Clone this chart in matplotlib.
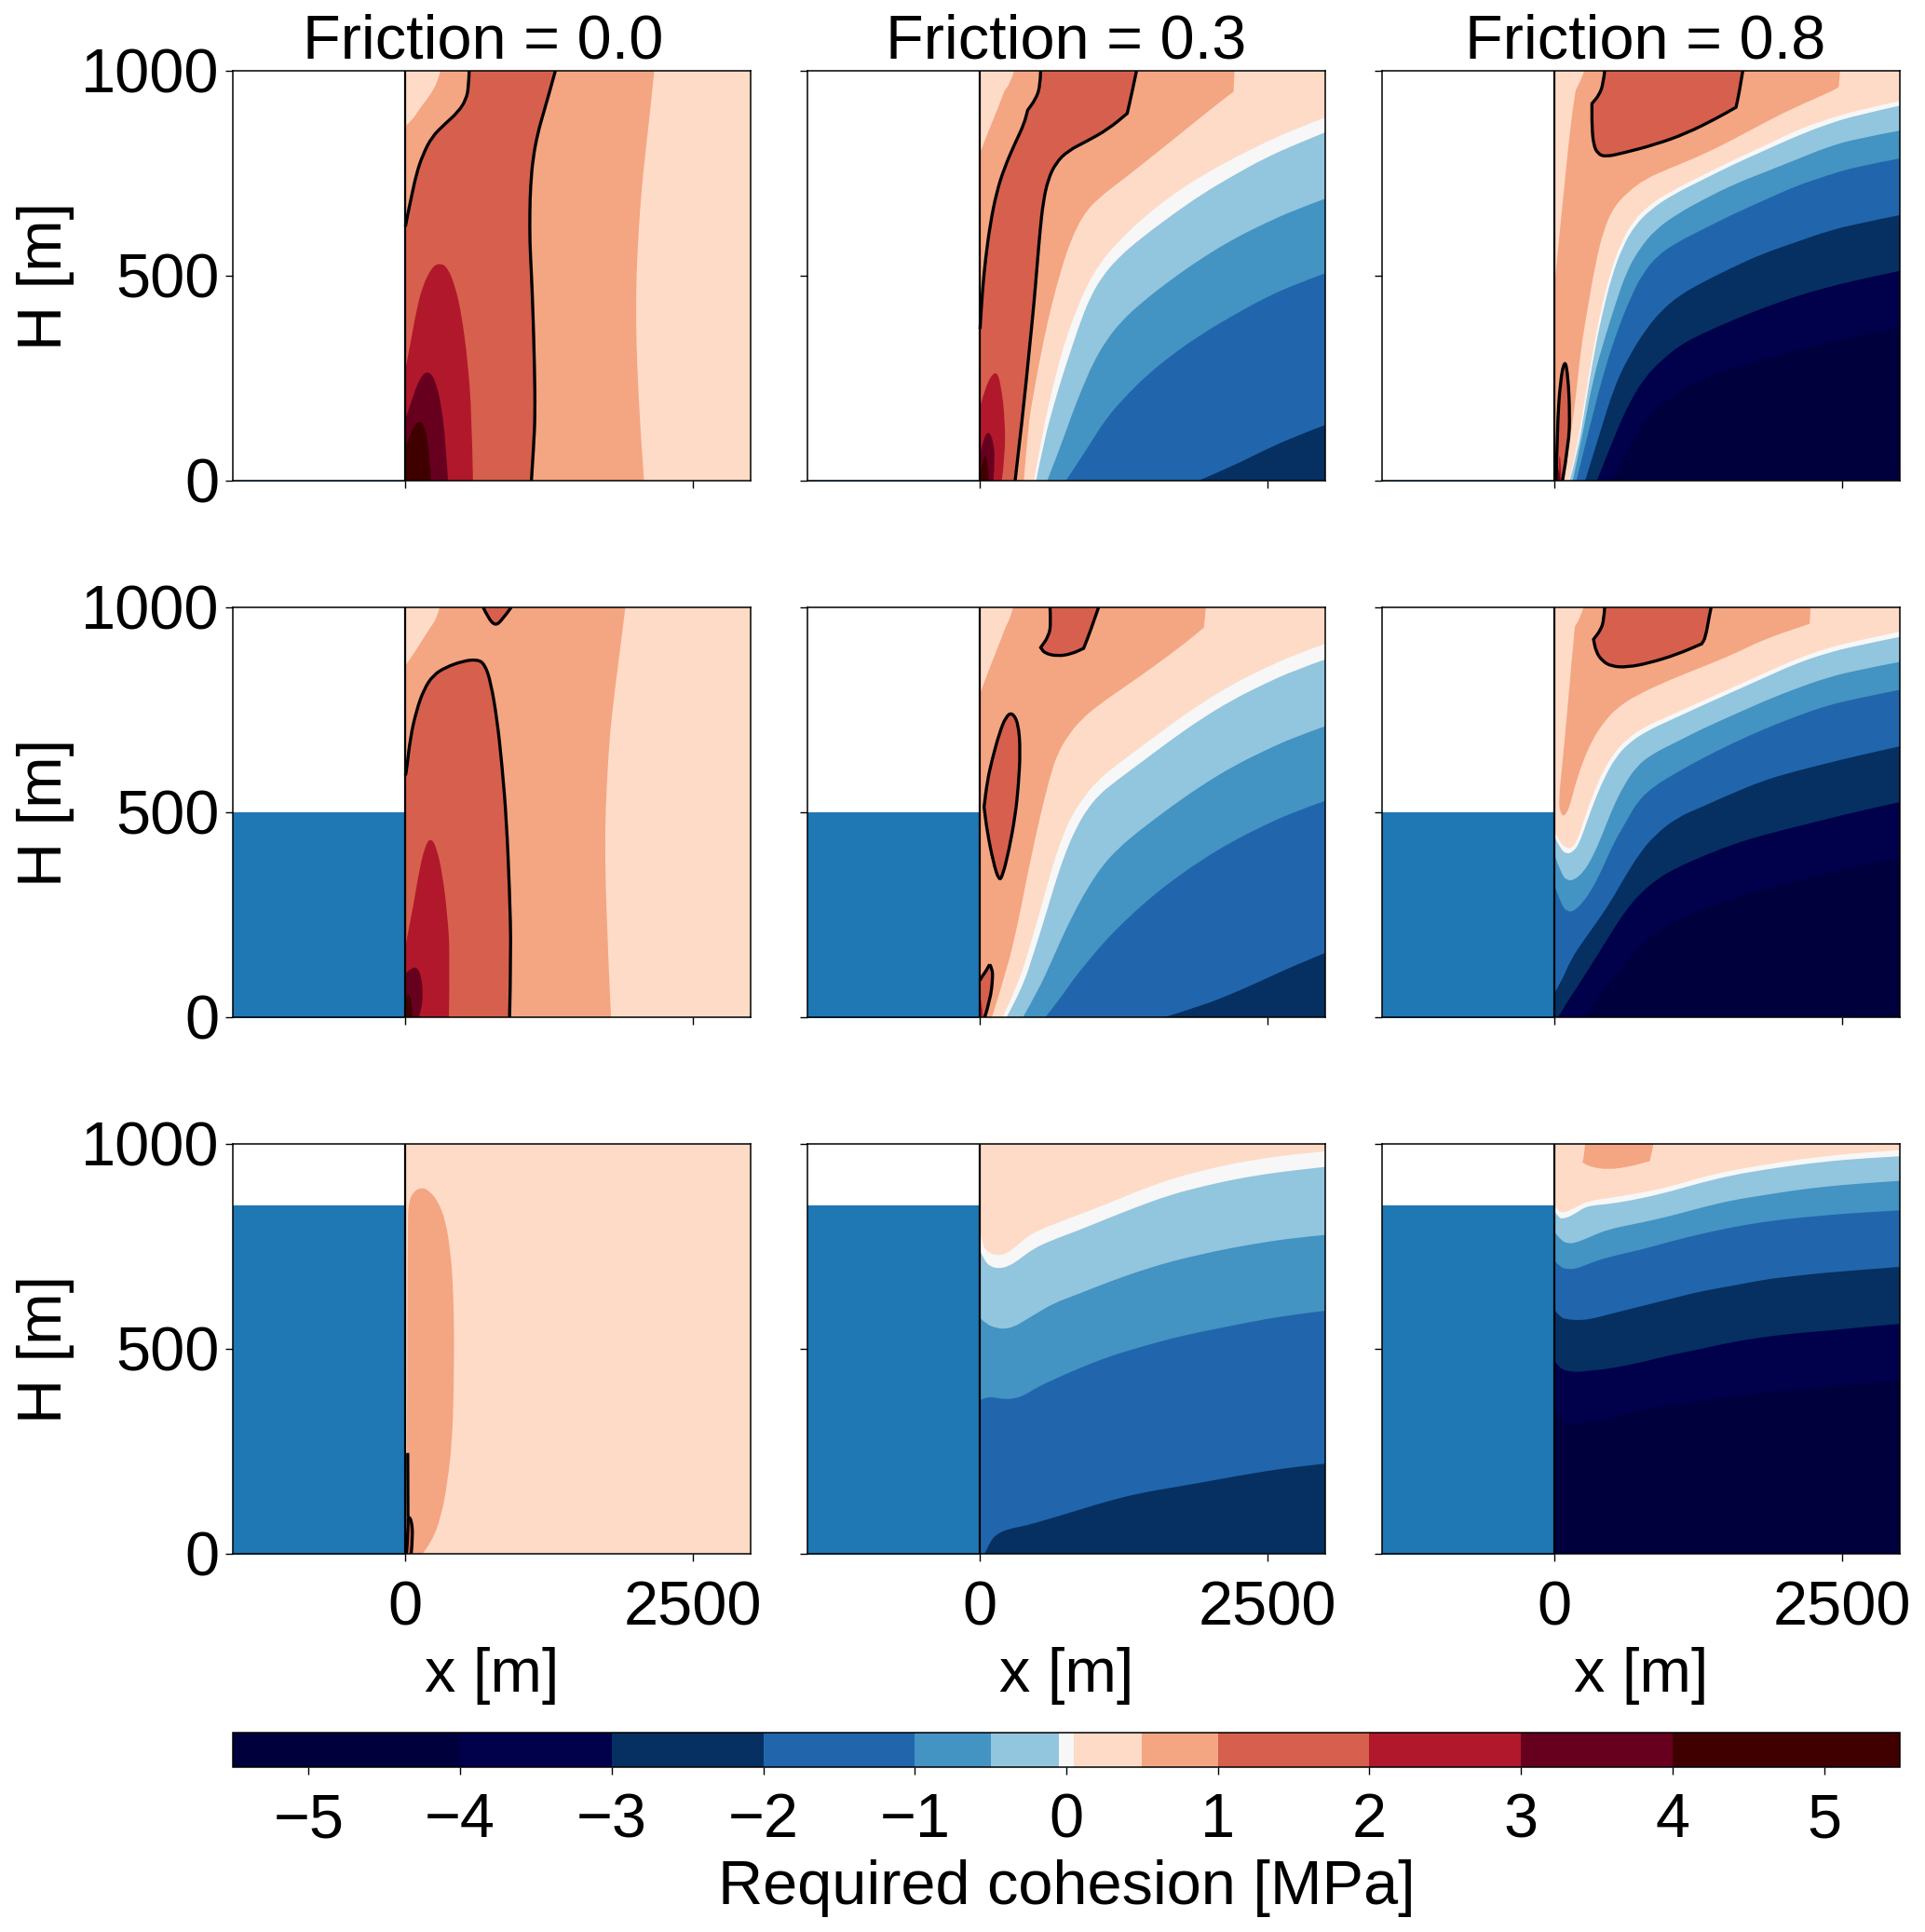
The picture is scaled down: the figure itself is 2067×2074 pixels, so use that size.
#!/usr/bin/env python3
# -*- coding: utf-8 -*-

import matplotlib
matplotlib.use("Agg")
import matplotlib.pyplot as plt
from matplotlib.colors import BoundaryNorm, ListedColormap
from matplotlib.cm import ScalarMappable
from matplotlib.patches import PathPatch
from matplotlib.path import Path

plt.rcParams['font.family'] = ['Liberation Sans', 'DejaVu Sans']

# contour levels of the required cohesion [MPa] and their colours
levels = [-5.5, -4, -3, -2, -1, -0.5, -0.05, 0.05, 0.5, 1, 2, 3, 4, 5.5]
colors = ['#00003c', '#00004b', '#053061', '#2166ac', '#4393c3', '#92c5de', '#f7f7f7',
          '#fddbc7', '#f4a582', '#d6604d', '#b2182b', '#67001f', '#400000']
cbar_ticks = [-5, -4, -3, -2, -1, 0, 1, 2, 3, 4, 5]

frictions = [0.0, 0.3, 0.8]
water_levels = [0, 500, 850]
x_ticks = [0, 2500]
h_ticks = [0, 500, 1000]

# indices into colors
DEEP, NAVY, DARK, STRONG, MID, LIGHT, WHITE, PALE, C05, C1, C2, C3, C4 = range(13)

# every curve is a list of (x [m], H [m]),
# a point listed twice is a kink in the curve

# friction 0.0, dry
a_corner = [(303, 1000), (284, 975), (216, 941), (122, 907), (54, 877), (0, 866)]
a_05 = [(2162, 1000), (2135, 922), (2095, 824), (2054, 718), (2027, 612), (2008, 506),
        (2003, 392), (2014, 278), (2041, 127), (2073, 0)]
a_c1_left = [(554, 1000), (549, 960), (527, 930), (460, 900), (338, 869), (230, 839),
             (149, 794), (95, 748), (54, 695), (14, 642), (0, 620)]
a_c1_right = [(1303, 1000), (1257, 953), (1203, 900), (1149, 847), (1108, 786), (1087, 718),
              (1081, 657), (1081, 581), (1095, 506), (1108, 415), (1122, 278), (1127, 164),
              (1116, 89), (1095, 0)]
a_c2 = [(0, 271), (41, 331), (95, 415), (149, 475), (230, 521), (297, 531), (365, 521),
        (432, 475), (487, 407), (541, 293), (576, 164), (587, 0), (0, 0)]
a_c3 = [(0, 149), (68, 210), (135, 255), (197, 268), (257, 248), (311, 187), (351, 89),
        (370, 0), (0, 0)]
a_c4 = [(0, 81), (54, 127), (122, 149), (176, 127), (208, 66), (224, 0), (0, 0)]

# friction 0.3, dry
b_corner = [(297, 1000), (265, 972), (211, 950), (211, 950), (143, 900), (76, 855), (0, 800)]
b_05 = [(2211, 1000), (2203, 949), (2203, 949), (2062, 919), (1792, 858), (1522, 797), (1252, 737),
        (1035, 691), (900, 650), (792, 589), (711, 521), (630, 438), (549, 339), (468, 218),
        (414, 127), (381, 0)]
b_white = [(3000, 886), (2738, 858), (2468, 824), (2198, 786), (1927, 744), (1657, 695),
           (1387, 634), (1170, 574), (1035, 528), (927, 475), (846, 422), (765, 362),
           (684, 286), (603, 195), (535, 104), (468, 0)]
b_light = [(3000, 850), (2738, 820), (2468, 786), (2198, 744), (1927, 699), (1657, 646),
           (1387, 589), (1197, 543), (1062, 498), (968, 453), (887, 399), (805, 331),
           (724, 263), (643, 187), (562, 104), (487, 0)]
b_mid = [(3000, 688), (2738, 661), (2468, 627), (2198, 589), (1927, 543), (1657, 490),
         (1414, 437), (1224, 388), (1089, 339), (981, 286), (887, 225), (792, 157),
         (697, 81), (584, 0)]
b_strong = [(3000, 506), (2738, 479), (2468, 445), (2198, 403), (1927, 358), (1657, 305),
            (1441, 255), (1251, 202), (1089, 149), (954, 89), (832, 36), (746, 0)]
b_dark = [(3000, 136), (2738, 108), (2468, 74), (2198, 36), (1900, 0)]
b_c1_left = [(527, 1000), (522, 960), (481, 930), (414, 904), (414, 904), (381, 869), (305, 824),
             (211, 763), (143, 703), (89, 627), (49, 544), (22, 468), (3, 384), (0, 370)]
b_c1_right = [(1360, 1000), (1319, 945), (1279, 896), (1279, 896), (1116, 858), (927, 828), (765, 805),
              (657, 775), (589, 733), (549, 680), (522, 612), (495, 521), (468, 430),
              (427, 316), (373, 164), (305, 0)]
b_c2 = [(0, 180), (49, 233), (138, 272), (184, 233), (216, 149), (219, 66), (189, 0), (0, 0)]
b_c3 = [(0, 66), (35, 108), (78, 121), (116, 96), (130, 51), (116, 0), (0, 0)]
b_c4 = [(0, 20), (35, 61), (49, 62), (68, 36), (76, 0), (0, 0)]

# friction 0.8, dry
c_corner = [(257, 1000), (238, 983), (184, 953), (184, 953), (157, 907), (116, 809), (76, 695),
            (35, 581), (0, 480)]
c_05 = [(2481, 1000), (2468, 960), (2468, 960), (2400, 949), (2089, 911), (1819, 873), (1549, 832),
        (1278, 794), (1008, 763), (792, 737), (630, 703), (508, 665), (427, 612), (359, 536),
        (292, 430), (224, 316), (170, 164), (84, 0)]
c_white = [(3000, 926), (2630, 904), (2360, 881), (2089, 854), (1819, 816), (1549, 782),
           (1278, 744), (1008, 706), (819, 672), (684, 634), (576, 581), (481, 506),
           (400, 415), (332, 316), (251, 180), (184, 66), (122, 0)]
c_light = [(3000, 915), (2630, 892), (2360, 869), (2089, 839), (1819, 805), (1549, 771),
           (1278, 733), (1008, 695), (833, 661), (697, 623), (589, 570), (495, 498),
           (414, 407), (346, 316), (265, 180), (197, 66), (130, 0)]
c_mid = [(3000, 854), (2630, 835), (2360, 813), (2089, 782), (1819, 752), (1549, 722),
         (1278, 684), (1062, 650), (873, 612), (738, 566), (630, 513), (535, 437),
         (441, 353), (332, 247), (238, 104), (157, 0)]
c_strong = [(3000, 786), (2630, 767), (2360, 744), (2089, 718), (1819, 684), (1549, 650),
            (1278, 612), (1062, 581), (900, 551), (765, 506), (657, 445), (549, 369),
            (441, 278), (319, 149), (189, 0)]
c_dark = [(3000, 648), (2630, 627), (2360, 608), (2089, 581), (1819, 555), (1549, 521),
          (1278, 483), (1089, 453), (927, 415), (792, 369), (657, 309), (522, 233),
          (387, 111), (265, 0)]
c_navy = [(3000, 512), (2630, 490), (2360, 471), (2089, 449), (1819, 422), (1549, 392),
          (1278, 358), (1089, 331), (927, 293), (792, 255), (657, 195), (522, 111), (368, 0)]
c_deep = [(3000, 373), (2630, 354), (2360, 335), (2089, 316), (1819, 297), (1549, 274),
          (1278, 248), (1062, 214), (873, 172), (738, 127), (630, 74), (508, 0)]
c_c1_top = [(435, 1000), (422, 968), (387, 941), (324, 920), (324, 920), (324, 862), (338, 820),
            (373, 798), (441, 790), (603, 800), (873, 820), (1143, 847), (1414, 885),
            (1576, 911), (1576, 911), (1603, 945), (1635, 1000)]
c_c1_low = [(14, 0), (22, 127), (49, 245), (89, 297), (116, 255), (132, 164), (122, 89), (68, 0)]
c_c2 = [(27, 0), (35, 40), (43, 68), (55, 40), (60, 0)]
c_c3 = [(27, 0), (30, 20), (35, 30), (45, 15), (48, 0)]

# friction 0.0, water at 500 m
d_corner = [(297, 1000), (278, 976), (203, 945), (135, 915), (68, 885), (0, 858)]
d_05 = [(1911, 1000), (1884, 938), (1846, 855), (1811, 778), (1778, 695), (1757, 604),
        (1741, 513), (1735, 422), (1741, 309), (1757, 195), (1770, 96), (1787, 0)]
d_c1_main = [(0, 590), (8, 597), (41, 680), (95, 748), (162, 801), (243, 835), (351, 854),
             (500, 869), (622, 873), (689, 862), (743, 816), (797, 725), (838, 619),
             (878, 483), (905, 309), (919, 157), (905, 0)]
d_c1_top = [(676, 1000), (716, 976), (778, 955), (838, 968), (919, 1000)]
d_c2 = [(0, 170), (14, 195), (68, 271), (122, 362), (176, 422), (222, 437), (270, 415), (324, 346),
        (365, 248), (387, 157), (378, 0), (0, 0)]
d_c3 = [(0, 105), (14, 111), (54, 119), (95, 123), (135, 104), (154, 58), (135, 13), (116, 0), (0, 0)]
d_c4 = [(0, 40), (8, 51), (27, 60), (54, 43), (62, 0), (0, 0)]

# friction 0.3, water at 500 m
e_corner = [(287, 1000), (265, 976), (224, 953), (224, 953), (157, 904), (76, 847), (0, 790)]
e_05 = [(1962, 1000), (1946, 951), (1946, 951), (1792, 915), (1522, 858), (1251, 805), (1035, 763),
        (873, 725), (765, 687), (670, 642), (603, 581), (535, 506), (468, 422), (400, 331),
        (332, 233), (238, 119), (103, 0)]
e_white = [(3000, 911), (2738, 885), (2468, 851), (2198, 813), (1927, 767), (1657, 714),
           (1387, 657), (1170, 612), (1008, 574), (900, 536), (792, 490), (711, 437),
           (630, 369), (549, 286), (441, 180), (332, 81), (197, 0)]
e_light = [(3000, 873), (2738, 847), (2468, 813), (2198, 775), (1927, 729), (1657, 676),
           (1387, 619), (1170, 574), (1035, 543), (927, 506), (832, 460), (738, 399),
           (657, 331), (576, 255), (468, 157), (360, 66), (230, 0)]
e_mid = [(3000, 710), (2738, 684), (2468, 650), (2198, 612), (1927, 566), (1657, 513),
         (1387, 456), (1197, 411), (1062, 369), (954, 324), (846, 271), (738, 210),
         (630, 142), (508, 66), (373, 0)]
e_strong = [(3000, 528), (2738, 502), (2468, 468), (2198, 430), (1927, 384), (1657, 331),
            (1441, 282), (1251, 233), (1089, 187), (954, 142), (819, 96), (711, 51), (568, 0)]
e_dark = [(3000, 157), (2738, 127), (2468, 92), (2198, 58), (1927, 28), (1603, 0)]
e_c1_top = [(608, 1000), (616, 960), (597, 930), (527, 902), (527, 902), (562, 888), (670, 881),
            (792, 886), (900, 900), (900, 900), (954, 938), (1030, 1000)]
e_c1_mid = [(278, 744), (224, 733), (170, 695), (103, 627), (62, 574), (35, 513), (35, 513), (62, 453),
            (116, 377), (165, 333), (197, 346), (251, 407), (305, 490), (332, 559),
            (351, 650), (332, 718), (278, 744)]
e_c1_low = [(84, 129), (49, 111), (8, 96), (0, 90)]
e_c1_low2 = [(84, 129), (105, 119), (111, 96), (89, 43), (41, 0)]
e_c2 = [(0, 50), (14, 40), (25, 0), (0, 0)]

# friction 0.8, water at 500 m
f_05 = [(251, 1000), (224, 976), (176, 953), (176, 953), (143, 854), (103, 725), (62, 604), (35, 528),
        (49, 498), (84, 489), (130, 513), (170, 559), (238, 619), (332, 680), (441, 725),
        (549, 756), (711, 786), (1008, 824), (1278, 854), (1549, 885), (1819, 922),
        (2143, 953), (2216, 960), (2216, 960), (2224, 1000)]
f_white = [(3000, 941), (2630, 919), (2360, 900), (2089, 873), (1819, 839), (1549, 805),
           (1278, 771), (1008, 737), (792, 710), (630, 680), (508, 642), (414, 597),
           (332, 543), (265, 490), (197, 430), (143, 411), (89, 415), (35, 430), (0, 455)]
f_light = [(3000, 928), (2630, 907), (2360, 888), (2089, 862), (1819, 828), (1549, 794),
           (1278, 760), (1008, 725), (805, 699), (643, 669), (522, 631), (427, 581),
           (346, 528), (278, 475), (211, 422), (157, 403), (103, 398), (49, 411), (0, 440)]
f_mid = [(3000, 867), (2630, 847), (2360, 828), (2089, 801), (1819, 771), (1549, 737),
         (1278, 703), (1062, 672), (846, 642), (711, 612), (603, 566), (508, 513),
         (414, 445), (332, 392), (251, 354), (170, 335), (116, 333), (62, 346), (0, 395)]
f_strong = [(3000, 799), (2630, 778), (2360, 760), (2089, 733), (1819, 703), (1549, 669),
            (1278, 631), (1062, 597), (873, 566), (724, 528), (616, 475), (508, 422),
            (414, 362), (332, 316), (251, 282), (170, 259), (116, 257), (62, 271), (0, 320)]
f_dark = [(3000, 661), (2630, 638), (2360, 619), (2089, 600), (1819, 578), (1549, 547),
          (1278, 513), (1062, 487), (873, 445), (738, 400), (603, 339), (495, 286),
          (387, 240), (251, 187), (143, 142), (62, 89), (0, 60)]
f_navy = [(3000, 525), (2630, 502), (2360, 483), (2089, 464), (1819, 445), (1549, 422),
          (1278, 392), (1062, 365), (900, 339), (738, 301), (603, 255), (468, 195),
          (332, 134), (197, 74), (89, 28), (30, 0)]
f_deep = [(3000, 386), (2630, 369), (2360, 350), (2089, 331), (1819, 312), (1549, 290),
          (1278, 263), (1062, 236), (900, 210), (738, 172), (603, 127), (468, 81),
          (373, 43), (251, 0)]
f_c1 = [(435, 1000), (427, 968), (400, 945), (338, 922), (338, 922), (359, 892), (414, 869), (495, 856),
        (630, 854), (819, 864), (1062, 885), (1278, 911), (1278, 911), (1311, 926), (1346, 983), (1360, 1000)]

# friction 0.0, water at 850 m
g_05 = [(10, 0), (19, 803), (27, 857), (68, 883), (135, 894), (203, 887), (284, 860),
        (351, 811), (392, 735), (414, 652), (424, 538), (419, 387), (405, 273), (365, 174),
        (311, 91), (230, 30), (149, 0)]
g_c1_stem = [(20, 246), (22, 90)]
g_c1_left = [(22, 90), (25, 50), (8, 0)]
g_c1_right = [(22, 90), (22, 90), (50, 85), (66, 45), (50, 0)]

# friction 0.3, water at 850 m
h_white = [(3000, 982), (2738, 975), (2468, 965), (2198, 952), (1927, 935), (1657, 914),
           (1387, 887), (1116, 855), (846, 826), (630, 803), (441, 781), (332, 754),
           (224, 731), (143, 728), (76, 735), (22, 750), (0, 790)]
h_light = [(3000, 944), (2738, 936), (2468, 926), (2198, 913), (1927, 896), (1657, 876),
           (1387, 849), (1116, 819), (846, 788), (630, 766), (454, 743), (332, 716),
           (238, 700), (157, 696), (89, 701), (35, 716), (0, 740)]
h_mid = [(3000, 778), (2738, 771), (2468, 760), (2198, 747), (1927, 731), (1657, 713),
         (1387, 690), (1116, 663), (846, 633), (630, 610), (495, 587), (387, 569),
         (305, 555), (211, 548), (130, 552), (62, 559), (0, 575)]
h_strong = [(3000, 593), (2738, 584), (2468, 572), (2198, 557), (1927, 542), (1657, 525),
            (1387, 504), (1116, 481), (846, 451), (630, 424), (495, 406), (387, 387),
            (305, 379), (211, 377), (130, 381), (62, 383), (0, 375)]
h_dark = [(3000, 220), (2738, 212), (2468, 201), (2198, 188), (1927, 174), (1657, 161),
          (1387, 148), (1116, 129), (846, 106), (576, 83), (387, 68), (251, 61), (143, 48),
          (89, 30), (49, 4), (35, 0)]

# friction 0.8, water at 850 m
i_05 = [(265, 1000), (251, 960), (238, 956), (238, 956), (305, 944), (468, 937), (657, 945),
        (827, 958), (827, 958), (859, 1000)]
i_white = [(3000, 985), (2630, 978), (2360, 970), (2089, 961), (1819, 949), (1549, 936),
           (1278, 919), (1008, 896), (738, 880), (468, 868), (278, 860), (170, 843),
           (76, 832), (35, 835), (0, 850)]
i_light = [(3000, 970), (2630, 964), (2360, 957), (2089, 948), (1819, 937), (1549, 924),
           (1278, 906), (1008, 884), (738, 866), (468, 853), (278, 849), (170, 828),
           (76, 817), (35, 820), (0, 835)]
i_mid = [(3000, 910), (2630, 903), (2360, 896), (2089, 887), (1819, 875), (1549, 863),
         (1278, 845), (1008, 824), (738, 807), (468, 792), (305, 773), (197, 760),
         (116, 756), (49, 766), (0, 785)]
i_strong = [(3000, 838), (2630, 832), (2360, 826), (2089, 819), (1819, 810), (1549, 797),
            (1278, 781), (1008, 762), (738, 741), (468, 724), (305, 709), (197, 696),
            (116, 694), (49, 699), (0, 715)]
i_dark = [(3000, 700), (2630, 692), (2360, 686), (2089, 678), (1819, 669), (1549, 654),
          (1278, 641), (1008, 622), (738, 603), (468, 584), (305, 572), (197, 570),
          (116, 572), (49, 576), (0, 595)]
i_navy = [(3000, 561), (2630, 552), (2360, 544), (2089, 538), (1819, 529), (1549, 517),
          (1278, 500), (1008, 485), (738, 466), (468, 451), (305, 447), (197, 443),
          (116, 446), (49, 451), (0, 470)]
i_deep = [(3000, 422), (2630, 413), (2360, 408), (2089, 400), (1819, 393), (1549, 383),
          (1278, 373), (1008, 364), (738, 349), (468, 330), (305, 322), (197, 317),
          (116, 318), (49, 326), (0, 345)]


def under(curve):
    # area below a curve that runs from the right edge towards the wall
    return curve + [(curve[-1][0], 0), (3000, 0)]


def band(left, right):
    # area between a left curve and a right curve, both listed from the top down
    return left + [(0, 0)] + right[::-1]


# painter's order for every panel: colour index and outline
fills = [
    [(C05, band(a_corner, a_05)), (C1, band(a_c1_left, a_c1_right)), (C2, a_c2), (C3, a_c3), (C4, a_c4)],
    [(C05, band(b_corner, b_05)), (WHITE, under(b_white)), (LIGHT, under(b_light)), (MID, under(b_mid)),
     (STRONG, under(b_strong)), (DARK, under(b_dark)), (C1, band(b_c1_left, b_c1_right)),
     (C2, b_c2), (C3, b_c3), (C4, b_c4)],
    [(C05, band(c_corner, c_05)), (WHITE, under(c_white)), (LIGHT, under(c_light)), (MID, under(c_mid)),
     (STRONG, under(c_strong)), (DARK, under(c_dark)), (NAVY, under(c_navy)), (DEEP, under(c_deep)),
     (C1, c_c1_top), (C1, c_c1_low), (C2, c_c2), (C3, c_c3)],
    [(C05, band(d_corner, d_05)), (C1, d_c1_main + [(0, 0)]), (C1, d_c1_top), (C2, d_c2), (C3, d_c3), (C4, d_c4)],
    [(C05, band(e_corner, e_05)), (WHITE, under(e_white)), (LIGHT, under(e_light)), (MID, under(e_mid)),
     (STRONG, under(e_strong)), (DARK, under(e_dark)), (C1, e_c1_top), (C1, e_c1_mid),
     (C1, e_c1_low[::-1] + e_c1_low2 + [(0, 0)]), (C2, e_c2)],
    [(C05, f_05), (WHITE, under(f_white)), (LIGHT, under(f_light)), (MID, under(f_mid)),
     (STRONG, under(f_strong)), (DARK, under(f_dark)), (NAVY, under(f_navy)), (DEEP, under(f_deep)),
     (C1, f_c1)],
    [(C05, g_05), (C1, g_c1_left[::-1] + g_c1_right)],
    [(WHITE, under(h_white)), (LIGHT, under(h_light)), (MID, under(h_mid)), (STRONG, under(h_strong)),
     (DARK, under(h_dark))],
    [(C05, i_05), (WHITE, under(i_white)), (LIGHT, under(i_light)), (MID, under(i_mid)),
     (STRONG, under(i_strong)), (DARK, under(i_dark)), (NAVY, under(i_navy)), (DEEP, under(i_deep))],
]

# black 1 MPa contour lines for every panel
black_lines = [
    [a_c1_left, a_c1_right],
    [b_c1_left, b_c1_right],
    [c_c1_top, c_c1_low],
    [d_c1_main, d_c1_top],
    [e_c1_top, e_c1_mid, e_c1_low, e_c1_low2],
    [f_c1],
    [g_c1_stem, g_c1_left, g_c1_right],
    [],
    [],
]

W, H = 2067, 2074
FS = 48


def on_frame(p):
    return p[0] <= 0 or p[0] >= 3000 or p[1] <= 0 or p[1] >= 1000


def mid(p, q):
    return ((p[0] + q[0]) / 2, (p[1] + q[1]) / 2)


def curve_path(points, closed=True):
    # quadratic path through the read points, sharp only on the panel frame
    pts = list(points)
    if closed:
        if pts[0] == pts[-1]:
            pts = pts[:-1]
        frame = [i for i, p in enumerate(pts) if on_frame(p)]
        if frame:
            pts = pts[frame[0]:] + pts[:frame[0]]
            pts.append(pts[0])
        else:
            start = mid(pts[-1], pts[0])
            pts = [start] + pts + [start]
    sharp = [on_frame(p) for p in pts]
    sharp[0] = sharp[-1] = True
    verts = [pts[0]]
    codes = [Path.MOVETO]
    for i in range(1, len(pts)):
        if sharp[i]:
            verts.append(pts[i])
            codes.append(Path.LINETO)
        else:
            end = pts[i + 1] if sharp[i + 1] else mid(pts[i], pts[i + 1])
            verts += [pts[i], end]
            codes += [Path.CURVE3, Path.CURVE3]
    return Path(verts, codes)


def pixel_axes(fig, left, top, right, bottom):
    return fig.add_axes([left / W, 1 - bottom / H, (right - left) / W, (bottom - top) / H])


fig = plt.figure(figsize=(W / 100, H / 100), dpi=100)
lefts = [250, 867, 1484]
tops = [76, 652, 1228]
title_x = [0.484, 0.5, 0.509]

for row in range(3):
    for col in range(3):
        ax = pixel_axes(fig, lefts[col], tops[row], lefts[col] + 556, tops[row] + 440)
        k = row * 3 + col
        ax.fill_between([-1500, 0], 0, water_levels[row], color='#1f77b4', lw=0.8)
        ax.fill([0, 3000, 3000, 0], [0, 0, 1000, 1000], color=colors[PALE], lw=0)
        for level, outline in fills[k]:
            ax.add_patch(PathPatch(curve_path(outline), facecolor=colors[level], lw=0))
        for line in black_lines[k]:
            ax.add_patch(PathPatch(curve_path(line, closed=line[0] == line[-1]),
                                   facecolor='none', edgecolor='black', lw=2.4))
        ax.plot([0, 0], [0, 1000], color='black', lw=1.6)
        ax.set_xlim(-1500, 3000)
        ax.set_ylim(0, 1000)
        ax.set_xticks(x_ticks)
        ax.set_yticks(h_ticks)
        ax.tick_params(length=5.5, width=1, labelsize=FS,
                       labelbottom=row == 2, labelleft=col == 0)
        ax.tick_params(axis='x', pad=15)
        ax.tick_params(axis='y', pad=5)
        for spine in ax.spines.values():
            spine.set_linewidth(1.1)
        if row == 0:
            ax.set_title(f"Friction = {frictions[col]:.1f}", fontsize=FS, pad=6, x=title_x[col])
        if row == 2:
            ax.set_xlabel("x [m]", fontsize=FS, labelpad=7)
        if col == 0:
            ax.set_ylabel("H [m]", fontsize=FS, labelpad=5)

cax = pixel_axes(fig, 250, 1860, 2040, 1897)
cmap = ListedColormap(colors)
norm = BoundaryNorm(levels, cmap.N)
cbar = fig.colorbar(ScalarMappable(norm=norm, cmap=cmap), cax=cax, orientation='horizontal',
                    spacing='proportional', ticks=cbar_ticks)
cbar.ax.minorticks_off()
cbar.ax.tick_params(length=5.5, width=1, labelsize=FS, pad=14)
cbar.outline.set_linewidth(1.1)
cbar.set_label("Required cohesion [MPa]", fontsize=FS, labelpad=7)

fig.savefig("out.png", dpi=100)
